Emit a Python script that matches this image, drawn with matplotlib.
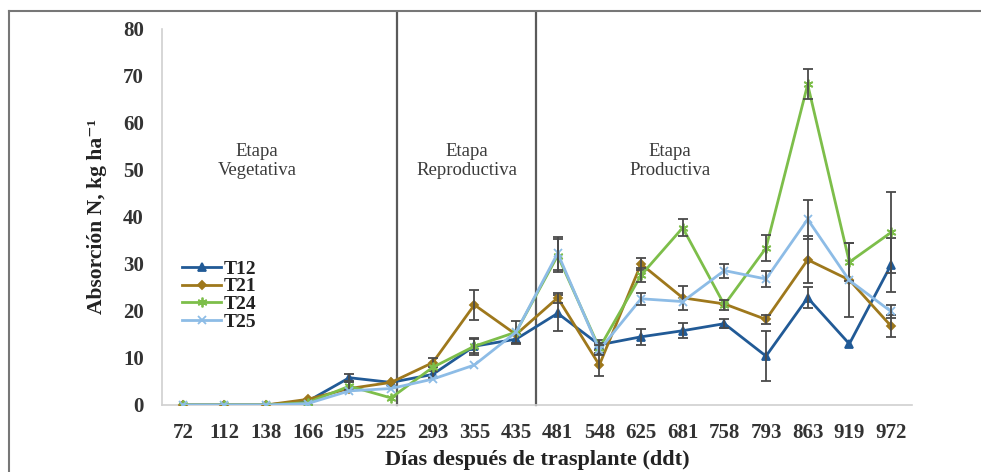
import numpy as np
import matplotlib
matplotlib.use("Agg")
import matplotlib.pyplot as plt
from matplotlib.lines import Line2D

# Days after transplant (category axis)
dias = ["72", "112", "138", "166", "195", "225", "293", "355", "435",
        "481", "548", "625", "681", "758", "793", "863", "919", "972"]

# N uptake per treatment, kg/ha
t12 = [0, 0, 0, 0.8, 5.8, 4.8, 6.5, 12.5, 14.0, 19.5, 12.8, 14.5, 15.8, 17.3, 10.4, 22.8, 13.0, 29.8]
t21 = [0, 0, 0, 1.2, 3.5, 4.8, 9.0, 21.3, 15.0, 22.8, 8.5, 30.0, 22.8, 21.5, 18.2, 30.9, 26.6, 16.8]
t24 = [0, 0, 0, 0.5, 4.0, 1.5, 8.0, 12.5, 15.5, 31.8, 12.1, 27.6, 37.7, 21.3, 33.4, 68.2, 30.4, 36.7]
t25 = [0, 0, 0, 0.3, 3.0, 3.5, 5.5, 8.5, 15.5, 32.3, 11.7, 22.6, 22.0, 28.6, 26.8, 39.5, 26.5, 19.9]

# standard errors (0 = no bar shown)
err12 = [0, 0, 0, 0, 0.8, 0, 0.8, 1.5, 1.0, 3.8, 1.0, 1.7, 1.6, 1.0, 5.3, 2.2, 0, 5.7]
err21 = [0, 0, 0, 0, 0, 0, 1.0, 3.2, 0, 1.0, 2.3, 1.3, 2.5, 0, 1.0, 5.0, 7.9, 2.3]
err24 = [0, 0, 0, 0, 0.8, 0, 0, 1.8, 2.4, 3.5, 1.0, 1.5, 1.8, 1.0, 2.7, 3.2, 4.1, 8.6]
err25 = [0, 0, 0, 0, 0, 0, 0, 0, 0, 3.5, 1.0, 1.3, 0, 1.5, 1.6, 4.1, 0, 1.4]

# stage boundaries (category index units) and stage labels
limites = [5.14, 8.48]
etapas = ["Etapa\nVegetativa", "Etapa\nReproductiva", "Etapa\nProductiva"]
etapa_x = [1.78, 6.82, 11.69]

serif = ["Liberation Serif", "DejaVu Serif"]
plt.rcParams["font.family"] = serif

fig = plt.figure(figsize=(9.81, 4.72), dpi=100)
ax = fig.add_axes([0.165, 0.142, 0.7645, 0.7966])

x = np.arange(len(dias))
series = [
    ("T12", t12, err12, "#215A96", "^", 5.5),
    ("T21", t21, err21, "#9E781C", "D", 4),
    ("T24", t24, err24, "#7DBE4A", (6, 2, 0), 7),
    ("T25", t25, err25, "#8DBCE6", "x", 5.5),
]
for i, (name, y, e, col, mk, ms) in enumerate(series):
    y = np.array(y)
    e = np.array(e)
    ax.plot(x, y, color=col, lw=2.0, marker=mk, ms=ms, mew=1.3,
            label=name, zorder=3 + i)
    m = e > 0
    ax.errorbar(x[m], y[m], yerr=e[m], fmt="none", ecolor="#4a4a4a",
                elinewidth=1.3, capsize=3.5, capthick=1.3, zorder=3 + i)

for lx in limites:
    ax.plot([lx, lx], [0, 83.4], color="#5a5a5a", lw=1.6, clip_on=False, zorder=2)

for tx, txt in zip(etapa_x, etapas):
    ax.text(tx, 52, txt, ha="center", va="center", fontsize=13.5,
            color="#3a3a3a", linespacing=1.15)

ax.set_xlim(-0.5, len(dias) - 0.5)
ax.set_ylim(0, 80)
ax.set_xticks(x)
ax.set_xticklabels(dias)
ax.set_yticks(np.arange(0, 81, 10))
ax.tick_params(length=0, pad=13, labelsize=15, colors="#333333")
for lab in ax.get_xticklabels() + ax.get_yticklabels():
    lab.set_fontweight("bold")

for s in ["top", "right"]:
    ax.spines[s].set_visible(False)
for s in ["left", "bottom"]:
    ax.spines[s].set_color("#d0d0d0")
    ax.spines[s].set_linewidth(1.2)

ax.set_xlabel("Días después de trasplante (ddt)", fontsize=16,
              fontweight="bold", color="#222222", labelpad=5)
ax.set_ylabel("Absorción N, kg ha⁻¹", fontsize=15.5, fontweight="bold",
              color="#222222", family=serif)
ax.yaxis.label.set_va("center")
ax.yaxis.set_label_coords(-0.087, 0.5)

leg = ax.legend(loc="upper left", bbox_to_anchor=(0.027, 0.385), frameon=False,
                fontsize=14, handlelength=2.0, handletextpad=0.15,
                labelspacing=0.0, borderpad=0, borderaxespad=0)
for t in leg.get_texts():
    t.set_fontweight("bold")
    t.set_color("#222222")

# outer frame (top and left edges)
fig.add_artist(Line2D([9 / 981, 1], [1 - 11 / 472] * 2, color="#777777", lw=1.5))
fig.add_artist(Line2D([9 / 981] * 2, [0, 1 - 11 / 472], color="#777777", lw=1.5))

fig.savefig("out.png", dpi=100)
